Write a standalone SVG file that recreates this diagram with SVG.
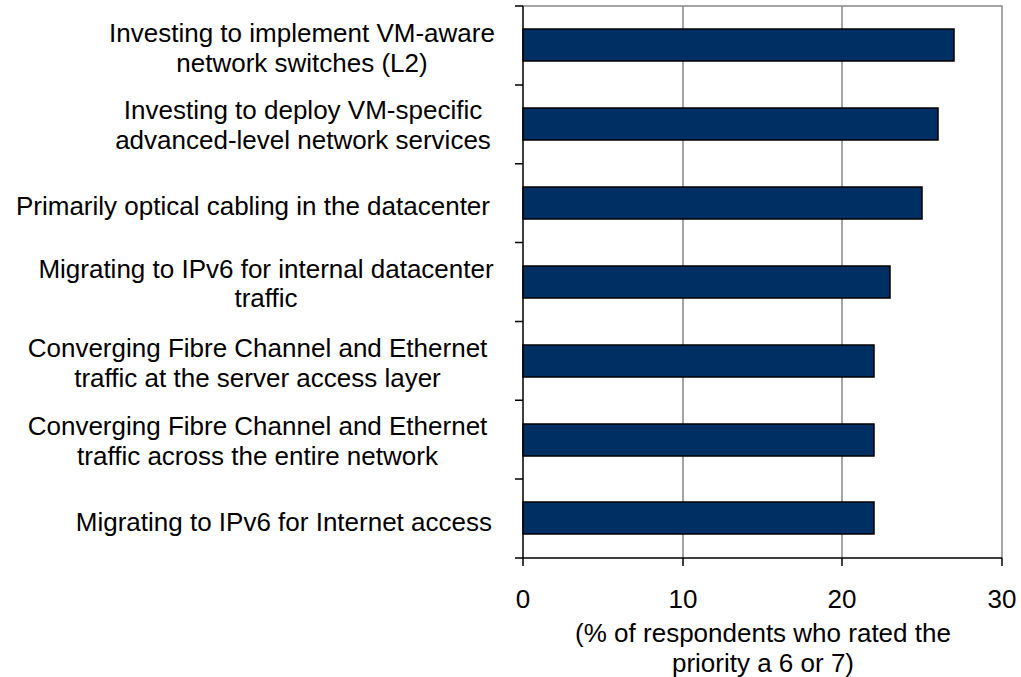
<svg xmlns="http://www.w3.org/2000/svg" width="1021" height="677" viewBox="0 0 1021 677">
<style>
text{font-family:"Liberation Sans",Arial,sans-serif;font-size:26px;fill:#000}
.m{text-anchor:middle}
.e{text-anchor:end}
.bar{fill:#003063;stroke:#000;stroke-width:1.5}
.grid{stroke:#888;stroke-width:1.5;fill:none}
.axis{stroke:#000;stroke-width:1.5;fill:none}
</style>
<rect width="1021" height="677" fill="#fff"/>
<g id="gridlines">
<path class="grid" d="M523 6H1002V558M683 6V558M842 6V558"/>
</g>
<g id="axes">
<path class="axis" d="M523 6V558H1002"/>
<path class="axis" d="M515 6H523M515 84.9H523M515 163.7H523M515 242.6H523M515 321.4H523M515 400.3H523M515 479.1H523M515 558H523"/>
<path class="axis" d="M523 558V566M683 558V566M842 558V566M1002 558V566"/>
<text class="m" x="523" y="608">0</text>
<text class="m" x="683" y="608">10</text>
<text class="m" x="842" y="608">20</text>
<text class="m" x="1002" y="608">30</text>
<text class="m" x="763" y="642">(% of respondents who rated the</text>
<text class="m" x="763" y="672">priority a 6 or 7)</text>
</g>
<g id="cat1">
<rect class="bar" x="523" y="29" width="431" height="32"/>
<text class="m" x="302" y="42">Investing to implement VM-aware</text>
<text class="m" x="302" y="72">network switches (L2)</text>
</g>
<g id="cat2">
<rect class="bar" x="523" y="108" width="415" height="32"/>
<text class="m" x="303" y="119">Investing to deploy VM-specific</text>
<text class="m" x="303" y="149">advanced-level network services</text>
</g>
<g id="cat3">
<rect class="bar" x="523" y="187" width="399" height="32"/>
<text class="e" x="490" y="215">Primarily optical cabling in the datacenter</text>
</g>
<g id="cat4">
<rect class="bar" x="523" y="266" width="367" height="32"/>
<text class="m" x="266" y="278">Migrating to IPv6 for internal datacenter</text>
<text class="m" x="266" y="307">traffic</text>
</g>
<g id="cat5">
<rect class="bar" x="523" y="345" width="351" height="32"/>
<text class="m" x="257.5" y="357">Converging Fibre Channel and Ethernet</text>
<text class="m" x="257.5" y="387">traffic at the server access layer</text>
</g>
<g id="cat6">
<rect class="bar" x="523" y="424" width="351" height="32"/>
<text class="m" x="257.5" y="435">Converging Fibre Channel and Ethernet</text>
<text class="m" x="257.5" y="465">traffic across the entire network</text>
</g>
<g id="cat7">
<rect class="bar" x="523" y="502" width="351" height="32"/>
<text class="e" x="492" y="531">Migrating to IPv6 for Internet access</text>
</g>
</svg>
